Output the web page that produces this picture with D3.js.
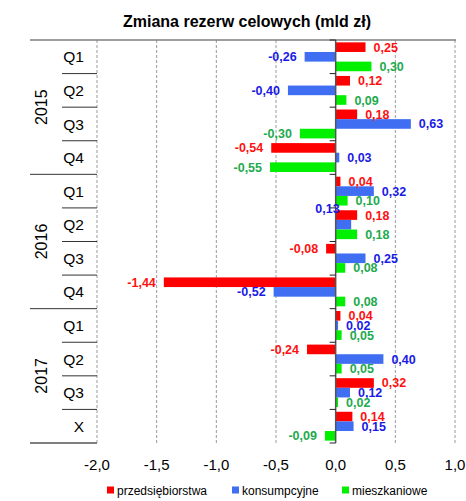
<!DOCTYPE html>
<html>
<head>
<meta charset="utf-8">
<script src="https://cdn.jsdelivr.net/npm/d3@7"></script>
<style>
  html, body { margin: 0; padding: 0; background: #fff; }
  svg { display: block; font-family: "Liberation Sans", Arial, sans-serif; }
</style>
</head>
<body>
<svg id="chart" width="466" height="501"></svg>
<script>
// ---- data ----
const title = "Zmiana rezerw celowych (mld zł)";
const years = ["2015", "2016", "2017"];
const yearSpans = [4, 4, 4];
const periods = ["Q1", "Q2", "Q3", "Q4", "Q1", "Q2", "Q3", "Q4", "Q1", "Q2", "Q3", "X"];
const seriesNames = ["przedsiębiorstwa", "konsumpcyjne", "mieszkaniowe"];
const przedsiebiorstwa = [0.25, 0.12, 0.18, -0.54, 0.04, 0.18, -0.08, -1.44, 0.04, -0.24, 0.32, 0.14];
const konsumpcyjne = [-0.26, -0.40, 0.63, 0.03, 0.32, 0.13, 0.25, -0.52, 0.02, 0.40, 0.12, 0.15];
const mieszkaniowe = [0.30, 0.09, -0.30, -0.55, 0.10, 0.18, 0.08, 0.08, 0.05, 0.05, 0.02, -0.09];
const xTicks = [-2.0, -1.5, -1.0, -0.5, 0.0, 0.5, 1.0];

// ---- styles ----
const barColors = ["#ff0000", "#3f6ef2", "#00f000"];
const labelColors = ["#ff1010", "#1a1ae6", "#22aa4e"];

const seriesValues = [przedsiebiorstwa, konsumpcyjne, mieszkaniowe];
const catKeys = periods.map((p, i) => i);

const svg = d3.select("#chart");
const plotTop = 40, plotBottom = 443, plotLeft = 97, plotRight = 455;

const x = d3.scaleLinear().domain([-2, 1]).range([plotLeft, plotRight]);
const y = d3.scaleBand().domain(catKeys).range([plotTop, plotBottom]).padding(0);
const catH = y.bandwidth();
const sub = d3.scaleBand().domain([0, 1, 2]).range([catH * 0.07, catH * 0.93]).padding(0);

// title
svg.append("text")
  .attr("x", 247).attr("y", 27)
  .attr("text-anchor", "middle")
  .attr("font-size", 16).attr("font-weight", "bold")
  .attr("fill", "#000")
  .text(title);

// gridlines (dashed)
svg.append("g").selectAll("line")
  .data(xTicks.filter(t => t !== 0))
  .join("line")
  .attr("x1", d => x(d)).attr("x2", d => x(d))
  .attr("y1", plotTop).attr("y2", plotBottom)
  .attr("stroke", "#9a9a9a").attr("stroke-width", 1)
  .attr("stroke-dasharray", "3,2");

// top border line
svg.append("line")
  .attr("x1", 30).attr("x2", 456)
  .attr("y1", plotTop).attr("y2", plotTop)
  .attr("stroke", "#7f7f7f").attr("stroke-width", 1.5);

// bottom line under category labels
svg.append("line")
  .attr("x1", 30).attr("x2", plotLeft)
  .attr("y1", plotBottom).attr("y2", plotBottom)
  .attr("stroke", "#7f7f7f").attr("stroke-width", 2);

// category separators (quarters and years)
const yearStarts = [];
let acc = 0;
yearSpans.forEach(s => { yearStarts.push(acc); acc += s; });
const sepG = svg.append("g");
catKeys.slice(1).forEach(k => {
  const isYear = yearStarts.includes(k);
  sepG.append("line")
    .attr("x1", isYear ? 30 : 62).attr("x2", plotLeft)
    .attr("y1", y(k)).attr("y2", y(k))
    .attr("stroke", "#333").attr("stroke-width", 1);
});

// quarter labels
svg.append("g").selectAll("text")
  .data(catKeys)
  .join("text")
  .attr("x", 84)
  .attr("y", k => y(k) + catH / 2)
  .attr("dy", "0.36em")
  .attr("text-anchor", "end")
  .attr("font-size", 15.5)
  .attr("fill", "#000")
  .text(k => periods[k]);

// year labels
svg.append("g").selectAll("text")
  .data(years)
  .join("text")
  .attr("transform", (d, i) => {
    const start = yearStarts[i], span = yearSpans[i];
    const cy = (y(start) + y(start + span - 1) + catH) / 2;
    return `translate(41,${cy}) rotate(-90)`;
  })
  .attr("dy", "0.36em")
  .attr("text-anchor", "middle")
  .attr("font-size", 16)
  .attr("fill", "#000")
  .text(d => d);

// bars
const barsData = [];
seriesValues.forEach((vals, s) => vals.forEach((v, i) => barsData.push({ s, i, v })));

svg.append("g").selectAll("rect")
  .data(barsData)
  .join("rect")
  .attr("x", d => x(Math.min(0, d.v)))
  .attr("width", d => Math.abs(x(d.v) - x(0)))
  .attr("y", d => y(d.i) + sub(d.s))
  .attr("height", sub.bandwidth())
  .attr("fill", d => barColors[d.s]);

// zero axis
svg.append("line")
  .attr("x1", x(0)).attr("x2", x(0))
  .attr("y1", plotTop).attr("y2", plotBottom)
  .attr("stroke", "#555").attr("stroke-width", 1.5);
svg.append("g").selectAll("line")
  .data(d3.range(0, catKeys.length + 1))
  .join("line")
  .attr("x1", x(0) - 6).attr("x2", x(0))
  .attr("y1", k => plotTop + k * catH).attr("y2", k => plotTop + k * catH)
  .attr("stroke", "#222").attr("stroke-width", 1);

// data labels
const fmt = v => v.toFixed(2).replace(".", ",");
const labelShift = { "1-5": { anchorEnd: true, x: x(0) + 4, dy: -16 } };
svg.append("g").selectAll("text")
  .data(barsData)
  .join("text")
  .each(function (d) {
    const el = d3.select(this);
    const cy = y(d.i) + sub(d.s) + sub.bandwidth() / 2;
    const o = labelShift[d.s + "-" + d.i];
    if (o) {
      el.attr("x", o.x).attr("y", cy + o.dy).attr("text-anchor", "end");
    } else if (d.v >= 0) {
      el.attr("x", x(d.v) + 8).attr("y", cy).attr("text-anchor", "start");
    } else {
      el.attr("x", x(d.v) - 8).attr("y", cy).attr("text-anchor", "end");
    }
  })
  .attr("dy", "0.36em")
  .attr("font-size", 12.5)
  .attr("font-weight", "bold")
  .attr("fill", d => labelColors[d.s])
  .text(d => fmt(d.v));

// x tick labels
svg.append("g").selectAll("text")
  .data(xTicks)
  .join("text")
  .attr("x", d => x(d))
  .attr("y", 470)
  .attr("text-anchor", "middle")
  .attr("font-size", 15)
  .attr("fill", "#000")
  .text(d => d3.format(".1f")(d).replace("−", "-").replace(".", ","));

// legend
const legendX = [107, 232, 342];
const lg = svg.append("g").selectAll("g")
  .data(seriesNames)
  .join("g")
  .attr("transform", (d, i) => `translate(${legendX[i]},0)`);
lg.append("rect")
  .attr("x", 0).attr("y", 486.5)
  .attr("width", 7).attr("height", 7)
  .attr("fill", (d, i) => barColors[i]);
lg.append("text")
  .attr("x", 10).attr("y", 494.5)
  .attr("font-size", 12)
  .attr("fill", "#000")
  .text(d => d);
</script>
</body>
</html>
